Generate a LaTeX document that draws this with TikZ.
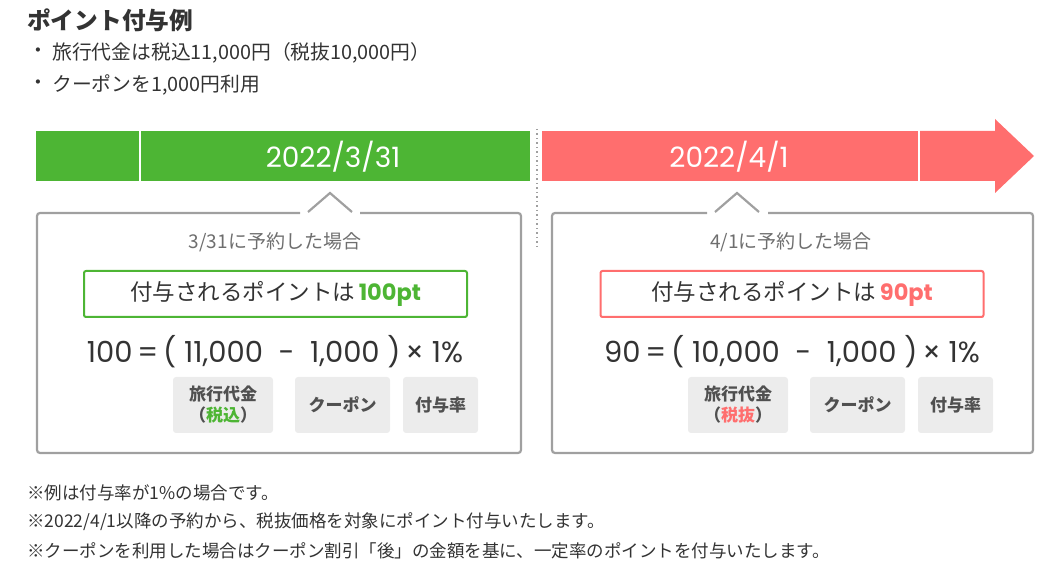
\documentclass[tikz,border=0pt]{standalone}
\usepackage{fontspec}
\setmainfont{Noto Sans CJK JP}
\newfontfamily\pop{Poppins}
\definecolor{grn}{RGB}{77,181,52}
\definecolor{rd}{RGB}{255,110,110}
\definecolor{txt}{RGB}{51,51,51}
\definecolor{sub}{RGB}{110,110,110}
\definecolor{bord}{RGB}{160,160,160}
\definecolor{labfill}{RGB}{236,236,236}
\definecolor{labtxt}{RGB}{80,80,80}
\begin{document}
\begin{tikzpicture}[x=1pt,y=-1pt,
  plain/.style={inner sep=0pt, text=txt},
  datetext/.style={inner sep=0pt, text=white, font=\pop\fontsize{28}{30}\selectfont},
  boxline/.style={draw=bord, line width=2.2pt},
  subtitle/.style={inner sep=0pt, text=sub, font=\fontsize{19}{22}\selectfont},
  ptbox/.style={line width=2pt, minimum width=383pt, minimum height=46pt, rounded corners=2pt, inner sep=0pt, text=txt, font=\fontsize{22.5}{26}\selectfont},
  eq/.style={inner sep=0pt, text=txt, font=\pop\fontsize{29}{32}\selectfont},
  labbox/.style={fill=labfill, rounded corners=3pt, minimum height=56pt, inner sep=0pt, align=center, text=labtxt, font=\bfseries\fontsize{17}{21}\selectfont},
  note/.style={inner sep=0pt, anchor=west, text=txt, font=\fontsize{17.5}{20}\selectfont}
]
\useasboundingbox (0,0) rectangle (1061,569);

% title and bullets
\node[plain, anchor=west, font=\bfseries\fontsize{23.7}{28}\selectfont] (title) at (27,20) {ポイント付与例};
\node[plain, font=\fontsize{19.8}{23}\selectfont] (b1) at (38,53) {・};
\node[plain, anchor=west, font=\fontsize{19.8}{23}\selectfont] (t1) at (52,53) {旅行代金は税込11,000円（税抜10,000円）};
\node[plain, font=\fontsize{19.8}{23}\selectfont] (b2) at (38,85) {・};
\node[plain, anchor=west, font=\fontsize{19.8}{23}\selectfont] (t2) at (52,85) {クーポンを1,000円利用};

% timeline
\fill[grn] (36,131) rectangle (139,181);
\fill[grn] (141,131) rectangle (530,181);
\node[datetext] (d1) at (333,157) {2022/3/31};
\draw[bord, line width=1.5pt, dash pattern=on 1.5pt off 3pt] (537,129) -- (537,250);
\fill[rd] (542,131) rectangle (918,181);
\fill[rd] (920,131) -- (995,131) -- (995,119) -- (1034,156) -- (995,193) -- (995,181) -- (920,181) -- cycle;
\node[datetext] (d2) at (729,157) {2022/4/1};

% left panel
\draw[boxline, rounded corners=3pt] (300,213) -- (37,213) -- (37,453) -- (521,453) -- (521,213) -- (360,213);
\draw[boxline] (308,212) -- (330,193) -- (352,212);
\node[subtitle] (s1) at (275,242) {3/31に予約した場合};
\node[ptbox, draw=grn] (p1) at (275.5,294) {付与されるポイントは\,{\pop\bfseries\color{grn}100pt}};
\node[eq] (e1) at (275,352) {100\,=\,( 11,000 \ - \ 1,000 )\,× 1\%};
\node[labbox, minimum width=100pt] (l1) at (223,405) {旅行代金\\（{\color{grn}税込}）};
\node[labbox, minimum width=95pt] (l2) at (342.5,405) {クーポン};
\node[labbox, minimum width=75pt] (l3) at (440.5,405) {付与率};

% right panel
\draw[boxline, rounded corners=3pt] (707,213) -- (552,213) -- (552,453) -- (1033,453) -- (1033,213) -- (768,213);
\draw[boxline] (715,212) -- (737,193) -- (759,212);
\node[subtitle] (s2) at (791,242) {4/1に予約した場合};
\node[ptbox, draw=rd] (p2) at (792,294) {付与されるポイントは\,{\pop\bfseries\color{rd}90pt}};
\node[eq] (e2) at (792,352) {90\,=\,( 10,000 \ - \ 1,000 )\,× 1\%};
\node[labbox, minimum width=100pt] (r1) at (738,405) {旅行代金\\（{\color{rd}税抜}）};
\node[labbox, minimum width=95pt] (r2) at (857.5,405) {クーポン};
\node[labbox, minimum width=75pt] (r3) at (955.5,405) {付与率};

% notes
\node[note] (n1) at (27,493) {※例は付与率が1\%の場合です。};
\node[note] (n2) at (27,522) {※2022/4/1以降の予約から、税抜価格を対象にポイント付与いたします。};
\node[note] (n3) at (27,551) {※クーポンを利用した場合はクーポン割引「後」の金額を基に、一定率のポイントを付与いたします。};
\end{tikzpicture}
\end{document}
